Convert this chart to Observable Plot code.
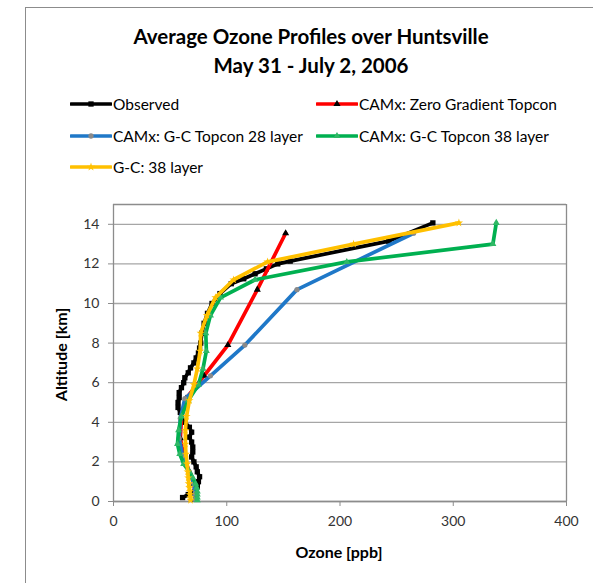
<!DOCTYPE html>
<html><head><meta charset="utf-8">
<script src="https://cdn.jsdelivr.net/npm/d3@7"></script>
<script src="https://cdn.jsdelivr.net/npm/@observablehq/plot@0.6"></script>
<style>
body{margin:0;background:#fff;font-family:Lato,"Open Sans",sans-serif;}
#wrap{position:relative;width:593px;height:583px;overflow:hidden;background:#fff;}
#frame{position:absolute;left:25px;top:7px;width:700px;height:700px;border-left:1.5px solid #8c8c8c;border-top:1.5px solid #8c8c8c;}
#title{position:absolute;left:0;width:622px;top:22px;text-align:center;font-weight:bold;font-size:20.5px;line-height:29px;color:#000;}
.leg{position:absolute;font-size:15.5px;display:flex;align-items:center;color:#000;white-space:nowrap;height:20px;}
.leg svg{margin-right:1px;}
#chart{position:absolute;left:0;top:190px;}
#xlab{position:absolute;left:239px;width:200px;top:542px;text-align:center;font-weight:bold;font-size:16px;}
#ylab{position:absolute;left:-40px;width:200px;top:345px;text-align:center;font-weight:bold;font-size:16px;transform:rotate(-90deg);}
</style></head>
<body><div id="wrap">
<div id="frame"></div>
<div id="title">Average Ozone Profiles over Huntsville<br>May 31 - July 2, 2006</div>
<div id="legend"></div>
<div id="chart"></div>
<div id="xlab">Ozone [ppb]</div>
<div id="ylab">Altitude [km]</div>
</div>
<script>
// Observed ozonesonde profile
const obsAlt = [0.2,0.35,0.5,0.75,1.0,1.25,1.5,1.75,2.0,2.25,2.5,2.75,3.0,3.25,3.5,3.75,4.0,4.25,4.5,4.75,5.0,5.25,5.5,5.75,6.0,6.25,6.5,6.75,7.0,7.25,7.5,7.75,8.0,8.5,9.0,9.5,10.0,10.5,11.0,11.25,11.5,11.75,12.0,12.14,13.15,14.07];
const obsO3  = [61,66,72,74,75,76,74,73,71,69,70,70,69,67,69,67,63,60,59,57,57,58,58,60,62,63,66,68,71,73,75,76,77,78,80,83,87,94,104,115,125,135,145,156,243,282];
// CAMx 28-layer grid levels
const alt28 = [0.1,0.4,0.9,1.5,2.3,3.2,4.2,5.2,6.35,7.9,10.7,13.55];
const zeroGradO3 = [72,72,71,67,62,59,60,64,80,101,127,152];
const gc28O3     = [72,72,71,67,61,58,59,63,85.6,116,162,265];
// 38-layer grid levels
const alt38 = [0.07,0.2,0.35,0.5,0.7,0.9,1.2,1.5,1.9,2.4,2.9,3.6,4.3,5.1,5.9,6.7,7.6,8.5,9.4,10.3,11.2,12.1,13.0,14.07];
const gc38O3  = [74,74,74,74,73.5,72.5,70,67,62,58.5,56.5,57.5,60,66,75,79,82,81.5,85.6,94.5,125,206,335,338];
const gcOnlyO3 = [68,68,67.5,67.5,67,66.5,66,65.5,65,64,63.5,63.5,64.5,67,71,74,76.5,77,82.5,90,106,136,212,305];

const seriesNames = ["Observed","CAMx: Zero Gradient Topcon","CAMx: G-C Topcon 28 layer","CAMx: G-C Topcon 38 layer","G-C: 38 layer"];
const xTicks = [0,100,200,300,400];
const yTicks = [0,2,4,6,8,10,12,14];

const colors = ["#000000","#ff0000","#1f78c8","#00b050","#ffc000"];
const symbols = ["square","triangle","circle","triangle","star"];
const markFill = ["#000000","#000000","#8a8a8a","#2fb865","#ffc000"];

const mk = (alts, vals, s) => alts.map((a,i)=>({alt:a, o3:vals[i], s}));
const data = [
  mk(obsAlt, obsO3, 0),
  mk(alt28, zeroGradO3, 1),
  mk(alt28, gc28O3, 2),
  mk(alt38, gc38O3, 3),
  mk(alt38, gcOnlyO3, 4)
];

const marks = [
  Plot.gridY(yTicks, {stroke:"#a6a6a6", strokeOpacity:1, strokeWidth:1.3}),
  Plot.ruleY([15], {stroke:"#8c8c8c", strokeWidth:1.3}),
  Plot.ruleX([400], {stroke:"#8c8c8c", strokeWidth:1.3}),
  Plot.axisY(yTicks, {tickSize:5, tickPadding:9, stroke:"#8c8c8c", label:null, fill:"#333"}),
  Plot.axisX(xTicks, {tickSize:5, tickPadding:10, stroke:"#8c8c8c", label:null, fill:"#333"}),
  Plot.ruleX([0], {stroke:"#8c8c8c", strokeWidth:1.3}),
  Plot.ruleY([0], {stroke:"#8c8c8c", strokeWidth:1.3})
];
data.forEach((d,i)=>{
  marks.push(Plot.line(d, {x:"o3", y:"alt", stroke:colors[i], strokeWidth:3.7, strokeLinejoin:"round", strokeLinecap:"round", curve:"linear"}));
  marks.push(Plot.dot(d, {x:"o3", y:"alt", symbol:symbols[i], fill:markFill[i], stroke:"none", r: i===0 ? 3 : 2.6}));
});

const chart = Plot.plot({
  width:593, height:381, marginLeft:113, marginRight:27, marginTop:14, marginBottom:70,
  style:{fontFamily:"Lato, 'Open Sans', sans-serif", fontSize:"14px", color:"#333", background:"transparent", overflow:"visible"},
  x:{domain:[0,400]}, y:{domain:[0,15]},
  marks
});
document.getElementById("chart").appendChild(chart);

// Legend
const legPos = [[70,94],[316,94],[70,126],[316,126],[70,157]];
const legend = document.getElementById("legend");
seriesNames.forEach((name,i)=>{
  const div = document.createElement("div");
  div.className = "leg";
  div.style.left = legPos[i][0] + "px";
  div.style.top = legPos[i][1] + "px";
  const sym = d3.symbol().type({square:d3.symbolSquare,triangle:d3.symbolTriangle,circle:d3.symbolCircle,star:d3.symbolStar}[symbols[i]]).size(i===0?28:22)();
  div.innerHTML = `<svg width="42" height="12"><line x1="1" y1="6" x2="41" y2="6" stroke="${colors[i]}" stroke-width="3.5" stroke-linecap="round"/><path d="${sym}" transform="translate(21,6)" fill="${markFill[i]}"/></svg><span>${name}</span>`;
  legend.appendChild(div);
});
</script>
</body></html>
